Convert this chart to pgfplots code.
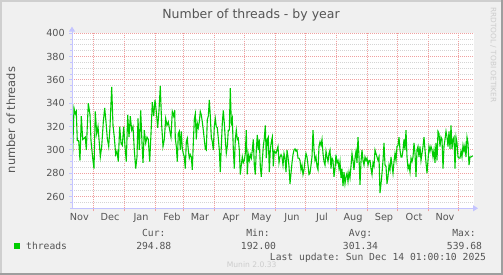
\documentclass[border=0pt]{standalone}
\usepackage{pgfplots}
\pgfplotsset{compat=1.18}
\usepackage{fontspec}
\setmainfont{DejaVu Sans}
\setmonofont{DejaVu Sans Mono}
\usetikzlibrary{arrows.meta}
\definecolor{bg}{HTML}{F0F0F0}
\definecolor{txt}{HTML}{555555}
\definecolor{majg}{HTML}{F0A0A0}
\definecolor{ming}{HTML}{D4D4D4}
\definecolor{axc}{HTML}{C4C4FF}
\definecolor{ln}{HTML}{00CC00}
\definecolor{shA}{HTML}{CFCFCF}
\definecolor{shB}{HTML}{9E9E9E}
\definecolor{faint}{HTML}{CCCCCC}
\newcommand{\sz}{\fontsize{9.7bp}{11bp}\selectfont}
\begin{document}
\begin{tikzpicture}
\useasboundingbox (0,0) rectangle (503bp,-275bp);
\fill[bg] (0,0) rectangle (503bp,-275bp);
\fill[shA] (0,0) rectangle (503bp,-1.5bp);
\fill[shA] (0,0) rectangle (1.5bp,-275bp);
\fill[shB] (0,-273bp) rectangle (503bp,-275bp);
\fill[shB] (501bp,0) rectangle (503bp,-275bp);
\begin{axis}[
  at={(72bp,-208.3bp)}, anchor=south west,
  scale only axis, width=401.5bp, height=175bp,
  xmin=-21.3, xmax=380.2, ymin=250, ymax=400,
  clip=false,
  axis line style={draw=none},
  axis background/.style={fill=white},
  ytick={260,280,...,400},
  minor ytick={250,255,...,400},
  xtick={0,31,62,90,121,151,182,212,243,274,304,335,365},
  xticklabels={},
  extra x ticks={-14,16.7,47.7,78.7,106.7,137.7,168,198.7,228.7,259.7,290.7,320.7,351.7},
  extra x tick labels={Nov,Dec,Jan,Feb,Mar,Apr,May,Jun,Jul,Aug,Sep,Oct,Nov},
  extra x tick style={grid=none, major tick length=0pt,
     xticklabel style={anchor=north, inner sep=0pt, yshift=-4.5bp}},
  xmajorgrids, ymajorgrids, yminorgrids,
  major grid style={majg, line width=1bp, dash pattern=on 1bp off 1bp},
  minor grid style={ming, line width=1bp, dash pattern=on 1bp off 1bp},
  tick align=outside, xtick pos=bottom, ytick pos=left,
  major tick length=3bp, minor tick length=2bp,
  xtick style={majg, line width=1bp},
  ytick style={axc, line width=1bp},
  ticklabel style={font=\sz, text=txt},
  yticklabel style={anchor=east, inner sep=0pt, xshift=-4bp},
  /pgf/number format/assume math mode=true,
]
\addplot[ln, line width=1.1bp, no marks] table {
x y
-20.7 296
-19.3 336
-18.0 331
-17.0 333
-16.0 308
-14.6 308
-13.3 291
-12.0 329
-10.6 309
-9.3 310
-8.0 311
-7.0 300
-5.0 340
-3.3 330
-2.3 308
-0.6 293
0.7 284
2.0 333
3.4 314
4.7 320
6.0 306
7.0 294
8.4 303
10.0 324
11.4 336
12.7 324
14.0 310
15.4 303
16.7 320
18.4 354
19.7 321
21.0 311
22.4 296
23.7 299
25.0 290
26.4 320
27.7 306
29.0 304
30.4 320
31.7 303
33.0 290
34.4 330
35.7 311
37.0 329
38.4 317
39.7 320
41.0 300
42.4 284
43.7 294
44.7 327
46.0 300
47.4 334
48.7 306
49.7 289
51.0 317
52.4 306
53.7 311
55.0 309
56.4 290
57.7 314
59.0 341
60.4 329
61.7 343
63.0 333
64.4 319
65.7 334
67.0 355
68.4 321
69.7 303
71.0 309
72.4 327
73.7 321
75.0 324
76.4 317
77.7 311
79.0 333
80.4 329
81.4 334
82.0 310
83.0 303
84.0 290
85.0 314
86.0 316
87.0 300
88.0 316
89.0 301
90.0 297
91.0 294
92.0 284
93.0 307
94.0 310
95.0 300
96.0 293
97.0 296
98.0 294
99.0 283
100.0 306
101.0 326
102.0 331
103.0 309
104.0 323
105.0 319
106.0 324
107.0 333
108.0 330
109.0 324
110.0 317
111.0 309
112.0 301
113.0 300
114.0 326
115.0 329
116.0 343
117.0 329
118.0 311
119.0 307
120.0 300
121.0 320
122.0 327
123.0 320
124.0 319
125.0 310
126.0 300
127.0 281
128.0 303
129.0 323
130.0 334
131.0 323
132.0 309
133.0 297
134.0 303
135.0 317
136.0 317
137.0 353
138.0 323
139.0 327
140.0 301
141.0 284
142.0 309
143.0 317
144.0 309
145.0 310
146.0 300
147.0 279
148.0 287
149.0 294
150.0 289
151.0 291
152.0 297
153.0 317
154.0 279
155.0 296
156.0 291
157.0 296
158.0 293
159.0 300
160.0 309
161.0 287
162.0 279
163.0 300
164.0 313
165.0 300
166.0 309
167.0 286
168.0 277
169.0 291
170.0 303
171.0 310
172.0 321
173.0 293
174.0 309
175.0 311
176.0 281
177.0 300
178.0 307
179.0 311
180.0 286
181.0 299
182.7 297
183.7 300
184.7 303
185.7 289
186.7 294
187.7 296
188.7 294
189.7 287
190.7 297
191.7 293
192.7 281
193.7 300
194.7 294
195.7 286
196.7 271
197.7 280
198.7 289
199.7 296
200.7 300
201.7 301
202.7 299
203.7 300
204.7 293
205.7 293
206.7 291
207.7 283
208.7 287
209.7 279
210.7 283
211.7 291
212.7 297
213.7 294
214.7 287
215.7 279
216.7 280
217.7 287
218.7 294
219.7 317
220.7 300
221.7 291
222.7 294
223.7 286
224.7 283
225.7 303
226.7 307
227.7 304
228.7 309
229.7 297
230.7 290
231.7 287
232.7 299
233.7 294
234.7 290
235.7 297
236.7 300
237.7 284
238.7 293
239.7 291
240.7 277
241.7 284
242.7 296
243.7 289
244.7 291
245.7 284
246.7 290
247.7 276
248.7 284
249.7 269
250.7 281
251.7 271
252.7 277
253.7 280
254.7 273
255.7 281
256.7 276
257.7 286
258.7 297
259.7 291
260.7 283
261.7 293
262.7 299
263.7 289
264.7 311
265.7 294
266.7 270
267.7 290
268.7 300
269.7 291
270.7 287
271.7 294
272.7 291
273.7 293
274.7 287
275.7 291
276.7 291
277.7 284
278.7 279
279.7 289
280.7 286
281.7 300
282.7 297
283.7 294
284.7 291
285.7 294
286.7 263
287.7 271
288.7 280
289.7 291
290.7 306
291.7 287
292.7 286
293.7 271
294.7 277
295.7 287
296.7 283
297.7 294
298.7 287
299.7 280
300.7 290
301.7 297
302.7 291
303.7 303
304.7 304
305.7 311
306.7 300
307.7 294
308.7 294
309.7 300
310.7 309
311.7 300
312.7 317
313.7 294
314.7 284
315.7 287
316.7 281
317.7 293
318.7 290
319.7 294
320.7 306
321.7 297
322.7 277
323.7 300
324.7 303
325.7 294
326.7 303
327.7 291
328.7 297
329.7 303
330.7 311
331.7 300
332.7 289
333.7 280
334.7 291
335.7 303
336.7 299
337.7 303
338.7 300
339.7 294
340.7 300
341.7 289
342.7 306
343.7 291
344.7 316
345.7 314
346.7 303
347.7 311
348.7 309
349.7 284
350.7 303
351.7 309
352.7 316
353.7 311
354.7 303
355.7 316
356.7 301
357.7 321
358.7 301
359.7 309
360.7 311
361.7 284
362.7 311
363.7 306
364.7 294
365.7 293
366.7 293
367.7 299
368.7 294
369.7 304
370.7 299
371.7 304
372.7 294
373.7 311
374.7 306
375.7 287
376.7 294
377.7 294
379.5 295
};
\draw[axc, line width=1bp, -{Triangle[length=5bp,width=6bp]}] (axis cs:-22.3,250) -- (axis cs:384.7,250);
\draw[axc, line width=1bp, -{Triangle[length=5bp,width=6bp]}] (axis cs:-21.3,249) -- (axis cs:-21.3,405.7);
\end{axis}
% title and labels
\node[anchor=base, inner sep=0pt, text=txt, font=\fontsize{12.5bp}{14bp}\selectfont] at (251bp,-18.3bp) {Number of threads - by year};
\node[anchor=base, inner sep=0pt, rotate=90, text=txt, font=\fontsize{11.4bp}{13bp}\selectfont] at (15bp,-120bp) {number of threads};
\node[rotate=-90, inner sep=0pt, text=faint, font=\fontsize{7.4bp}{9bp}\selectfont] at (493.3bp,-55bp) {RRDTOOL / TOBI OETIKER};
% legend
\fill[ln] (14bp,-243bp) rectangle (20bp,-249bp);
\begin{scope}[every node/.style={inner sep=0pt, text=txt, font=\ttfamily\sz}]
\node[anchor=base west] at (26bp,-249bp) {threads};
\node[anchor=base] at (153.8bp,-236.5bp) {Cur:};
\node[anchor=base] at (153.8bp,-249.2bp) {294.88};
\node[anchor=base] at (258bp,-236.5bp) {Min:};
\node[anchor=base] at (258.5bp,-249.2bp) {192.00};
\node[anchor=base] at (360.5bp,-236.5bp) {Avg:};
\node[anchor=base] at (360.5bp,-249.2bp) {301.34};
\node[anchor=base] at (464bp,-236.5bp) {Max:};
\node[anchor=base] at (464.5bp,-249.2bp) {539.68};
\node[anchor=base] at (378bp,-260.5bp) {Last update: Sun Dec 14 01:00:10 2025};
\end{scope}
\node[inner sep=0pt, text=faint, font=\fontsize{7.6bp}{9bp}\selectfont] at (251.7bp,-265bp) {Munin 2.0.33};
\end{tikzpicture}
\end{document}
